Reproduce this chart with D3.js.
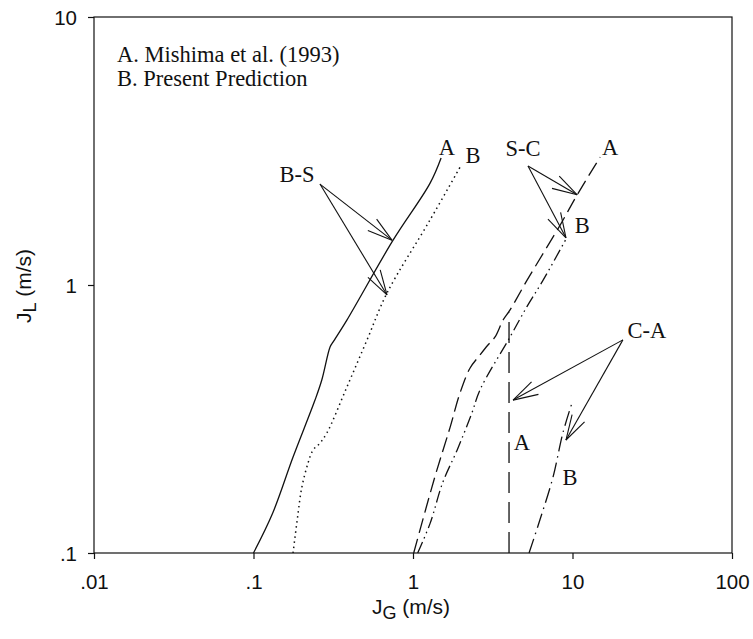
<!DOCTYPE html>
<html>
<head>
<meta charset="utf-8">
<script src="https://cdn.jsdelivr.net/npm/d3@7"></script>
<style>
  body { margin: 0; background: #fff; }
  svg { display: block; }
</style>
</head>
<body>
<svg id="chart" width="753" height="639"></svg>
<script>
// Flow-regime transition boundaries, J_G vs J_L (log-log)
// B-S: bubbly to slug, S-C: slug to churn, C-A: churn to annular
// A = Mishima et al. (1993), B = present prediction

const bsA_jg = [0.10, 0.132, 0.177, 0.243, 0.268, 0.302, 0.315, 0.385, 0.75, 1.28, 1.50];
const bsA_jl = [0.10, 0.141, 0.228, 0.372, 0.442, 0.587, 0.612, 0.74, 1.47, 2.40, 2.98];

const bsB_jg = [0.177, 0.188, 0.201, 0.220, 0.236, 0.261, 0.289, 0.385, 0.515, 0.687, 1.28, 1.97];
const bsB_jl = [0.10, 0.133, 0.176, 0.217, 0.242, 0.257, 0.281, 0.416, 0.624, 0.933, 1.75, 2.75];

const scA_jg = [1.01, 1.37, 1.71, 1.97, 2.28, 2.63, 2.95, 3.27, 3.67, 4.06, 5.18, 8.35, 10.7, 14.9];
const scA_jl = [0.10, 0.192, 0.295, 0.395, 0.49, 0.548, 0.597, 0.64, 0.74, 0.807, 1.04, 1.67, 2.17, 3.0];

const scB_jg = [1.07, 1.28, 1.54, 1.89, 2.34, 2.63, 4.06, 5.18, 6.53, 9.25];
const scB_jl = [0.10, 0.129, 0.184, 0.242, 0.333, 0.406, 0.64, 0.83, 1.04, 1.51];

const caA_jg = [4.0, 4.0];
const caA_jl = [0.10, 0.79];

const caB_jg = [5.34, 6.25, 7.55, 8.71, 9.93];
const caB_jl = [0.10, 0.133, 0.192, 0.281, 0.363];

const xTickValues = [0.01, 0.1, 1, 10, 100];
const xTickLabels = [".01", ".1", "1", "10", "100"];
const yTickValues = [0.1, 1, 10];
const yTickLabels = [".1", "1", "10"];

const legendLines = ["A. Mishima et al. (1993)", "B. Present Prediction"];

// curve labels: text, J_G, J_L
const labelText = ["B-S", "A", "B", "S-C", "A", "B", "C-A", "A", "B"];
const labelJg   = [0.1875, 1.63, 2.38, 4.90, 17.2, 11.5, 29.3, 4.82, 9.64];
const labelJl   = [2.42, 3.05, 2.85, 3.03, 3.05, 1.56, 0.634, 0.242, 0.1795];

// pointer arrows: tail (J_G, J_L) -> head (J_G, J_L)
const arrowFromJg = [0.261, 0.261, 5.26, 5.26, 20.7, 20.7];
const arrowFromJl = [2.38, 2.38, 2.78, 2.78, 0.624, 0.624];
const arrowToJg   = [0.738, 0.687, 10.7, 9.1, 4.24, 9.1];
const arrowToJl   = [1.47, 0.918, 2.17, 1.50, 0.372, 0.264];

// ---------------------------------------------------------------
const W = 753, H = 639;
const margin = { top: 17, right: 21, bottom: 86, left: 94 };
const iw = W - margin.left - margin.right;
const ih = H - margin.top - margin.bottom;

const svg = d3.select("#chart");
const g = svg.append("g").attr("transform", `translate(${margin.left},${margin.top})`);

const x = d3.scaleLog().domain([0.01, 100]).range([0, iw]);
const y = d3.scaleLog().domain([0.1, 10]).range([ih, 0]);

const sansFont = "'Liberation Sans', Arial, Helvetica, sans-serif";
const serifFont = "'Liberation Serif', 'Times New Roman', Times, serif";
const ink = "#111";

// axes
const xAxis = d3.axisBottom(x).tickValues(xTickValues)
  .tickFormat((d, i) => xTickLabels[i]).tickSize(6).tickSizeOuter(0);
const yAxis = d3.axisLeft(y).tickValues(yTickValues)
  .tickFormat((d, i) => yTickLabels[i]).tickSize(6).tickSizeOuter(0).tickPadding(11);

const gx = g.append("g").attr("transform", `translate(0,${ih})`).call(xAxis);
const gy = g.append("g").call(yAxis);

[gx, gy].forEach(a => {
  a.select(".domain").remove();
  a.selectAll(".tick line").attr("stroke", ink).attr("stroke-width", 1.2);
  a.selectAll(".tick text").attr("fill", ink).style("font-family", sansFont).style("font-size", "20.5px");
});
gx.selectAll(".tick text").attr("dy", null).attr("y", 36);
gy.selectAll(".tick text").attr("dy", "0.36em");

// frame
g.append("rect").attr("x", 0).attr("y", 0).attr("width", iw).attr("height", ih)
  .attr("fill", "none").attr("stroke", ink).attr("stroke-width", 1.2);

// axis titles
const xt = svg.append("text")
  .attr("x", margin.left + x(1) - 2).attr("y", 614)
  .attr("text-anchor", "middle").attr("fill", ink)
  .style("font-family", sansFont).style("font-size", "21px");
xt.append("tspan").text("J");
xt.append("tspan").attr("dy", 5).style("font-size", "18px").text("G");
xt.append("tspan").attr("dy", -5).text(" (m/s)");

const yt = svg.append("text")
  .attr("transform", `translate(31,${margin.top + y(1) + 1}) rotate(-90)`)
  .attr("text-anchor", "middle").attr("fill", ink)
  .style("font-family", sansFont).style("font-size", "21px");
yt.append("tspan").text("J");
yt.append("tspan").attr("dy", 5).style("font-size", "18px").text("L");
yt.append("tspan").attr("dy", -5).text(" (m/s)");

// curves
const line = d3.line().x(d => x(d[0])).y(d => y(d[1])).curve(d3.curveCatmullRom.alpha(0.5));
const zip = (a, b) => a.map((v, i) => [v, b[i]]);

const curves = [
  { pts: zip(bsA_jg, bsA_jl), dash: null, w: 1.3 },
  { pts: zip(bsB_jg, bsB_jl), dash: "1.5,3.6", w: 1.5 },
  { pts: zip(scA_jg, scA_jl), dash: "15,6", w: 1.3 },
  { pts: zip(scB_jg, scB_jl), dash: "12,4,1.5,4,1.5,4", w: 1.3 },
  { pts: zip(caA_jg, caA_jl), dash: "21,9", w: 1.3 },
  { pts: zip(caB_jg, caB_jl), dash: "15,5,1.5,5", w: 1.3 }
];

g.append("g").selectAll("path").data(curves).join("path")
  .attr("d", d => line(d.pts))
  .attr("fill", "none").attr("stroke", ink)
  .attr("stroke-width", d => d.w)
  .attr("stroke-dasharray", d => d.dash);

// pointer arrows with open heads
const ag = g.append("g").attr("stroke", ink).attr("stroke-width", 1.1).attr("fill", "none");
arrowFromJg.forEach((_, i) => {
  const x0 = x(arrowFromJg[i]), y0 = y(arrowFromJl[i]);
  const x1 = x(arrowToJg[i]), y1 = y(arrowToJl[i]);
  ag.append("line").attr("x1", x0).attr("y1", y0).attr("x2", x1).attr("y2", y1);
  const ang = Math.atan2(y0 - y1, x0 - x1);
  const len = 26, spread = 16 * Math.PI / 180;
  [-spread, spread].forEach(s => {
    ag.append("line").attr("x1", x1).attr("y1", y1)
      .attr("x2", x1 + len * Math.cos(ang + s))
      .attr("y2", y1 + len * Math.sin(ang + s));
  });
});

// curve labels
g.append("g").selectAll("text").data(labelText).join("text")
  .attr("x", (d, i) => x(labelJg[i])).attr("y", (d, i) => y(labelJl[i]))
  .attr("text-anchor", "middle").attr("fill", ink)
  .style("font-family", serifFont).style("font-size", "22.5px")
  .text(d => d);

// legend note
g.append("g").selectAll("text").data(legendLines).join("text")
  .attr("x", 23).attr("y", (d, i) => 45 + i * 24)
  .attr("fill", ink)
  .style("font-family", serifFont).style("font-size", "22.5px")
  .text(d => d);
</script>
</body>
</html>
